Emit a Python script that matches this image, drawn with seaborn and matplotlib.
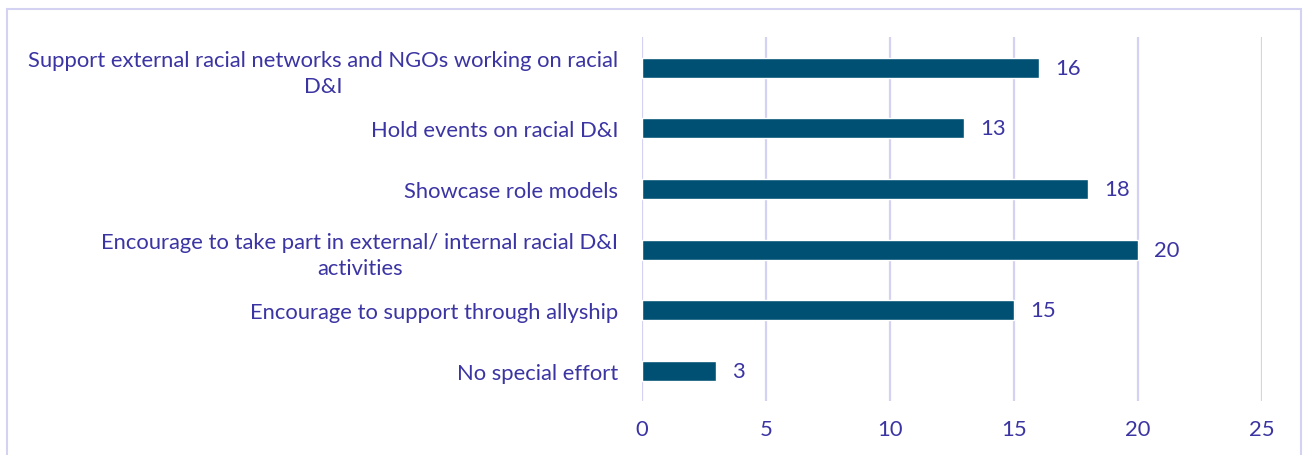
import matplotlib
matplotlib.use("Agg")
import matplotlib.pyplot as plt
from matplotlib.patches import Rectangle
import seaborn as sns
import pandas as pd

categories = [
    "Support external racial networks and NGOs working on racial\nD&I",
    "Hold events on racial D&I",
    "Showcase role models",
    "Encourage to take part in external/ internal racial D&I\nactivities",
    "Encourage to support through allyship",
    "No special effort",
]
counts = [16, 13, 18, 20, 15, 3]
x_ticks = [0, 5, 10, 15, 20, 25]

TEXT = "#3b34a3"
BAR = "#005074"
GRID = "#d4d2f2"
FS = 15.8

sns.set_style("white")
plt.rcParams["font.family"] = ["Lato", "DejaVu Sans"]

df = pd.DataFrame({"item": categories, "count": counts})

fig = plt.figure(figsize=(13.03, 4.56), dpi=100)
ax = fig.add_axes([0.4927, 0.118, 0.4758, 0.798])

sns.barplot(data=df, x="count", y="item", color=BAR, saturation=1,
            width=0.33, ax=ax, orient="h")

ax.set_xlim(0, 25)
ax.set_xticks(x_ticks)
ax.set_xlabel("")
ax.set_ylabel("")
ax.grid(axis="x", color=GRID, linewidth=1.6)
ax.set_axisbelow(True)
for s in ax.spines.values():
    s.set_visible(False)
ax.tick_params(axis="x", length=0, pad=13, labelsize=FS, labelcolor=TEXT)
ax.tick_params(axis="y", length=0, pad=17, labelsize=FS, labelcolor=TEXT)
for lbl in ax.get_yticklabels():
    lbl.set_multialignment("center")
    lbl.set_linespacing(1.4)

for i, v in enumerate(counts):
    ax.text(v + 0.65, i, str(v), va="center", ha="left",
            fontsize=FS, color=TEXT)

# light frame around the chart area
fig.patches.append(Rectangle((7 / 1303, -0.05), 1294 / 1303, 1 - 10 / 456 + 0.05,
                             transform=fig.transFigure, fill=False,
                             edgecolor=GRID, linewidth=1.5))

fig.savefig("out.png", dpi=100, facecolor="white")
